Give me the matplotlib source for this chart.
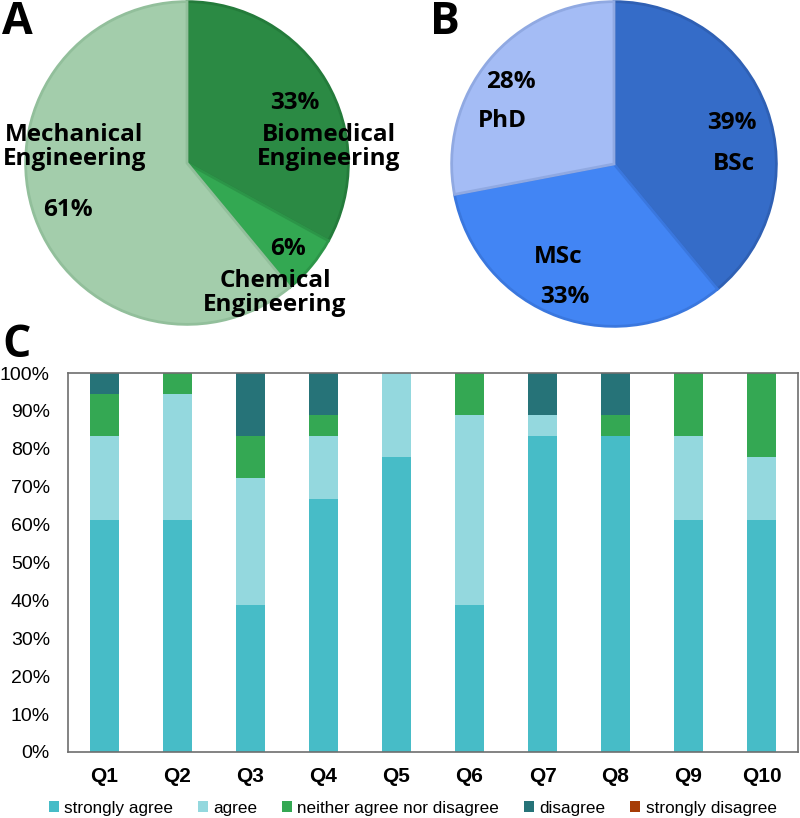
import numpy as np
import matplotlib.pyplot as plt
from matplotlib.ticker import PercentFormatter

# ---- data ----
# A : department (n = 18)
dept_labels = ["Biomedical\nEngineering", "Chemical\nEngineering", "Mechanical\nEngineering"]
dept_pct = [33, 6, 61]
dept_colors = ["#2b8a44", "#33a852", "#a3cdab"]
dept_edges = ["#247b3b", "#2c9548", "#92bf9b"]

# B : degree
deg_labels = ["BSc", "MSc", "PhD"]
deg_pct = [39, 33, 28]
deg_colors = ["#356cc8", "#4285f4", "#a4bcf5"]
deg_edges = ["#2f60b4", "#3a77de", "#90a9e2"]

# C : survey answers (% of respondents)
questions = ["Q1", "Q2", "Q3", "Q4", "Q5", "Q6", "Q7", "Q8", "Q9", "Q10"]
strongly_agree = [61.1, 61.1, 38.9, 66.7, 77.8, 38.9, 83.3, 83.3, 61.1, 61.1]
agree = [22.2, 33.3, 33.3, 16.7, 22.2, 50.0, 5.6, 0.0, 22.2, 16.7]
neither = [11.1, 5.6, 11.1, 5.6, 0.0, 11.1, 0.0, 5.6, 16.7, 22.2]
disagree = [5.6, 0.0, 16.7, 11.1, 0.0, 0.0, 11.1, 11.1, 0.0, 0.0]
strongly_disagree = [0, 0, 0, 0, 0, 0, 0, 0, 0, 0]
answer_names = ["strongly agree", "agree", "neither agree nor disagree",
                "disagree", "strongly disagree"]
answer_colors = ["#47bcc7", "#94d8de", "#34a853", "#267378", "#a63c06"]

W, H = 800, 818
fig = plt.figure(figsize=(W / 100, H / 100), dpi=100)

def px_axes(x0, y0, w, h):
    # axes from pixel box (top-left origin)
    return fig.add_axes([x0 / W, 1 - (y0 + h) / H, w / W, h / H])

lab_font = dict(family="Open Sans", fontweight="bold", fontsize=17.5, color="black",
                ha="center", va="center")

# ---- pie A ----
axA = px_axes(24, 0, 326, 326)
wedges, _ = axA.pie(dept_pct, colors=dept_colors, startangle=90, counterclock=False,
                    radius=0.99, wedgeprops=dict(linewidth=2))
for w, ec in zip(wedges, dept_edges):
    w.set_edgecolor(ec)
axA.set_xlim(-1, 1)
axA.set_ylim(-1, 1)
axA.set_aspect("equal")
axA.axis("off")
axA.text(0.66, 0.37, f"{dept_pct[0]}%", **lab_font)
axA.text(0.87, 0.10, dept_labels[0], linespacing=1.0, **lab_font)
axA.text(0.62, -0.53, f"{dept_pct[1]}%", **lab_font)
axA.text(0.54, -0.80, dept_labels[1], linespacing=1.0, **lab_font)
axA.text(-0.69, 0.10, dept_labels[2], linespacing=1.0, **lab_font)
axA.text(-0.73, -0.29, f"{dept_pct[2]}%", **lab_font)

# ---- pie B ----
axB = px_axes(450, 0, 328, 328)
wedges, _ = axB.pie(deg_pct, colors=deg_colors, startangle=90, counterclock=False,
                    radius=0.99, wedgeprops=dict(linewidth=2))
for w, ec in zip(wedges, deg_edges):
    w.set_edgecolor(ec)
axB.set_xlim(-1, 1)
axB.set_ylim(-1, 1)
axB.set_aspect("equal")
axB.axis("off")
axB.text(0.72, 0.25, f"{deg_pct[0]}%", **lab_font)
axB.text(0.73, 0.0, deg_labels[0], **lab_font)
axB.text(-0.34, -0.57, deg_labels[1], **lab_font)
axB.text(-0.30, -0.81, f"{deg_pct[1]}%", **lab_font)
axB.text(-0.63, 0.50, f"{deg_pct[2]}%", **lab_font)
axB.text(-0.68, 0.26, deg_labels[2], **lab_font)

# ---- stacked bars C ----
axC = px_axes(68, 373, 730, 379)
x = np.arange(len(questions))
bottom = np.zeros(len(questions))
for vals, name, col in zip([strongly_agree, agree, neither, disagree, strongly_disagree],
                           answer_names, answer_colors):
    vals = np.array(vals, dtype=float)
    axC.bar(x, vals, 0.4, bottom=bottom, color=col, label=name)
    bottom += vals
axC.set_xlim(-0.5, len(questions) - 0.5)
axC.set_ylim(0, 100)
axC.set_yticks(np.arange(0, 101, 10))
axC.yaxis.set_major_formatter(PercentFormatter(decimals=0))
axC.set_xticks(x)
axC.set_xticklabels(questions, fontweight="bold", fontsize=15, family="Liberation Sans")
for t in axC.get_yticklabels():
    t.set_family("Liberation Sans")
    t.set_fontsize(14)
axC.tick_params(length=0)
axC.tick_params(axis="x", pad=11)
axC.tick_params(axis="y", pad=13)
for s in axC.spines.values():
    s.set_color("#6e6e6e")
    s.set_linewidth(1.2)

axC.legend(loc="upper center", bbox_to_anchor=(0.472, -0.11), ncol=5, frameon=False,
           prop=dict(family="Liberation Sans", size=12.3), handlelength=0.6,
           handleheight=0.6, handletextpad=0.3, columnspacing=1.45, borderaxespad=0)

# ---- panel letters ----
letter_font = dict(family="Open Sans", fontweight="bold", fontsize=32, va="baseline",
                   ha="left")
fig.text(2 / W, 1 - 34 / H, "A", **letter_font)
fig.text(430 / W, 1 - 34 / H, "B", **letter_font)
fig.text(2 / W, 1 - 357 / H, "C", **letter_font)

fig.savefig("out.png", dpi=100)
